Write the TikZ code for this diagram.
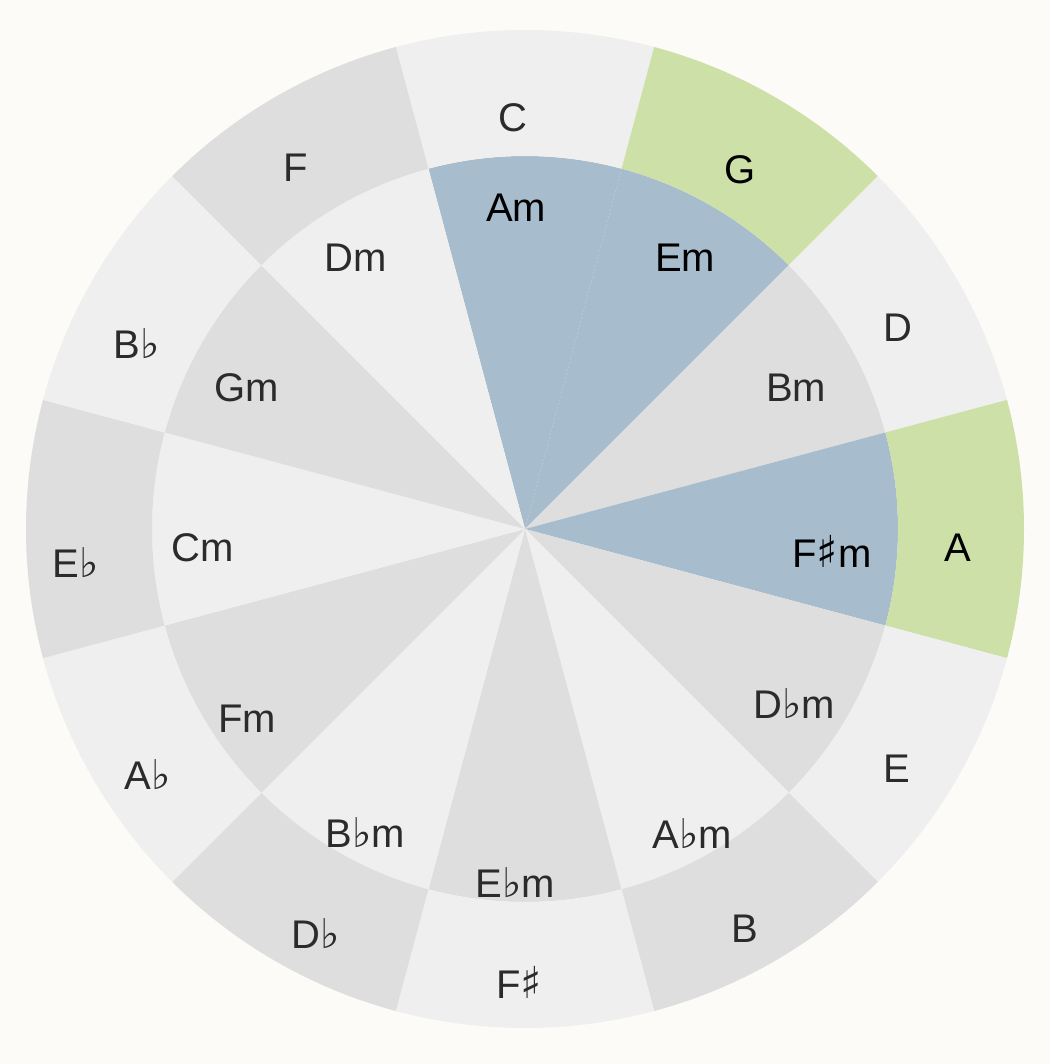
\documentclass[tikz,border=0pt]{standalone}
\usepackage{fontspec}
\setmainfont{Liberation Sans}
\newfontfamily\symfont{DejaVu Sans}
\definecolor{bg}{HTML}{FCFBF7}
\definecolor{lite}{HTML}{EFEFEF}
\definecolor{dark}{HTML}{DEDEDE}
\definecolor{grn}{HTML}{CCE0A8}
\definecolor{blu}{HTML}{A7BCCC}
\definecolor{txt}{HTML}{2B2B2B}
\newcommand\fl{{\symfont\fontsize{41}{41}\selectfont\char"266D}}
\newcommand\shp{{\symfont\fontsize{44}{44}\selectfont\char"266F}}
\begin{document}
\begin{tikzpicture}[x=1pt,y=1pt,
  lbl/.style={anchor=base, font=\fontsize{40}{48}\selectfont, text=txt, inner sep=0pt},
  hl/.style={lbl, text=black}]
\fill[bg] (-525,-535) rectangle (525,529);
\useasboundingbox (-525,-535) rectangle (525,529);
\foreach \k/\mc/\nc in {0/lite/blu,1/grn/blu,2/lite/dark,3/grn/blu,4/lite/dark,5/dark/lite,6/lite/dark,7/dark/lite,8/lite/dark,9/dark/lite,10/lite/dark,11/dark/lite} {
  \pgfmathsetmacro\a{75-30*\k}
  \pgfmathsetmacro\b{105-30*\k}
  \fill[\nc] (0,0) -- (\a:373) arc[start angle=\a,end angle=\b,radius=373] -- cycle;
  \fill[\mc] (\a:373) arc[start angle=\a,end angle=\b,radius=373] -- (\b:499) arc[start angle=\b,end angle=\a,radius=499] -- cycle;
}
% major keys
\node[lbl] (kC)  at (-12,397) {C};
\node[hl]  (kG)  at (215,345) {G};
\node[lbl] (kD)  at (373,187) {D};
\node[hl]  (kA)  at (433,-33) {A};
\node[lbl] (kE)  at (372,-253) {E};
\node[lbl] (kB)  at (220,-413) {B};
\node[lbl] (kFs) at (-6,-469) {F\shp};
\node[lbl] (kDb) at (-209,-419) {D\fl};
\node[lbl] (kAb) at (-377,-260) {A\fl};
\node[lbl] (kEb) at (-449,-49) {E\fl};
\node[lbl] (kBb) at (-388,170) {B\fl};
\node[lbl] (kF)  at (-229,347) {F};
% minor keys
\node[hl]  (mA)  at (-9,307) {Am};
\node[hl]  (mE)  at (160,257) {Em};
\node[lbl] (mB)  at (271,127) {Bm};
\node[hl]  (mFs) at (307,-39) {F\shp m};
\node[lbl] (mDb) at (269,-189) {D\fl m};
\node[lbl] (mAb) at (167,-319) {A\fl m};
\node[lbl] (mEb) at (-10,-368) {E\fl m};
\node[lbl] (mBb) at (-160,-318) {B\fl m};
\node[lbl] (mF)  at (-278,-203) {Fm};
\node[lbl] (mC)  at (-322,-33) {Cm};
\node[lbl] (mG)  at (-278,127) {Gm};
\node[lbl] (mD)  at (-169,257) {Dm};
\end{tikzpicture}
\end{document}
